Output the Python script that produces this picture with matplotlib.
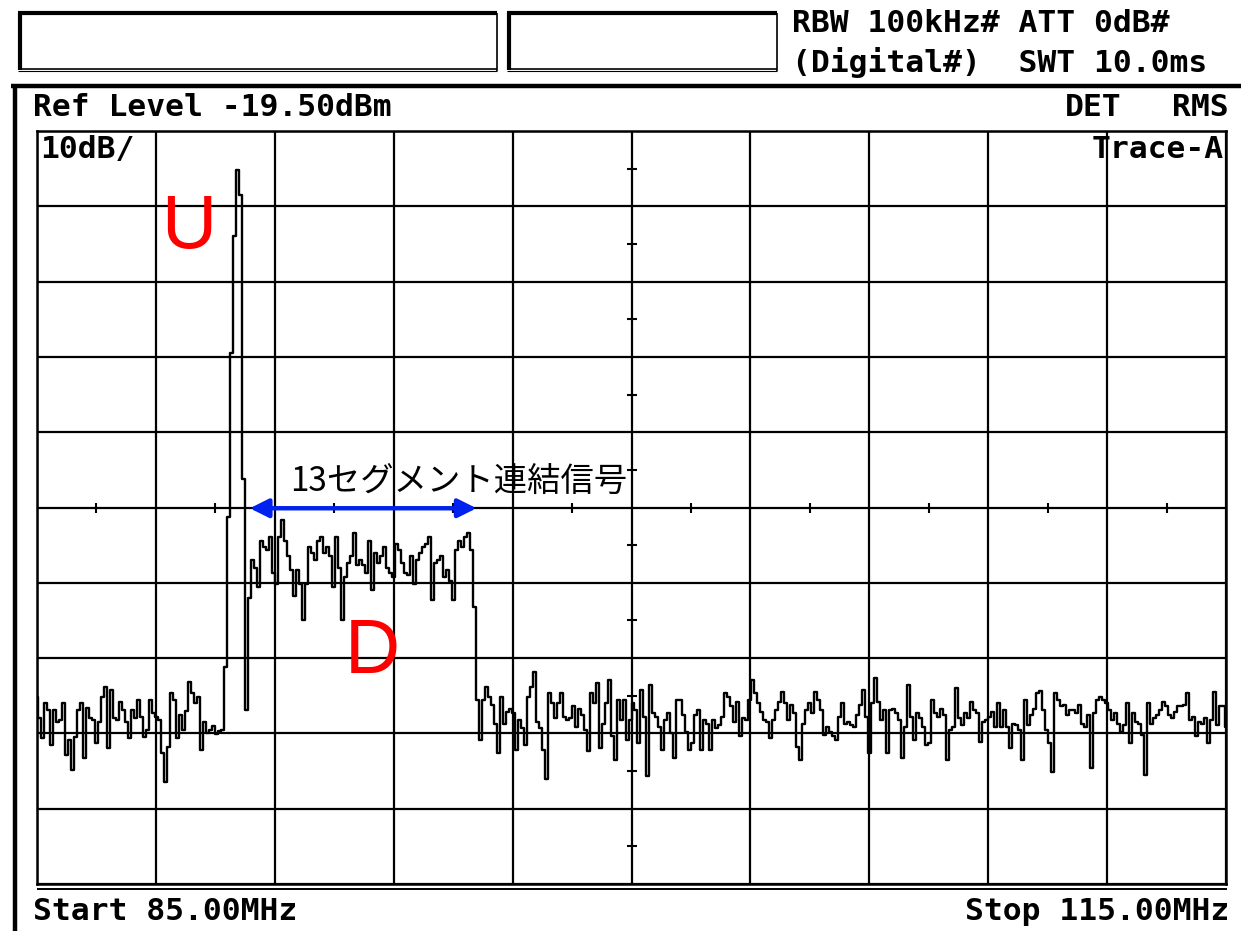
import numpy as np
import matplotlib
matplotlib.use("Agg")
import matplotlib.pyplot as plt

# ---------------- data ----------------
start_mhz, stop_mhz = 85.0, 115.0
ref_level = -19.5
db_per_div = 10

noise_left = [-94.7, -97.5, -100.1, -95.5, -96.4, -101.0, -96.4, -98.0, -97.7, -95.5,
              -102.4, -100.4, -104.4, -100.0, -96.4, -95.5, -102.8, -96.1, -97.5, -97.7,
              -100.8, -98.0, -94.7, -93.3, -101.4, -93.7, -97.5, -97.7, -95.3, -96.4,
              -98.0, -100.1, -96.4, -97.5, -95.1, -97.3, -100.0, -99.0, -95.1, -96.8,
              -97.3, -97.7, -102.1, -106.0, -101.3, -94.1, -95.1, -100.1, -97.1, -99.1,
              -96.5, -92.7, -94.1, -95.5, -94.7, -101.7, -98.0, -99.5, -99.1, -98.5,
              -99.6, -99.2]

u_peak = [-99.0, -90.7, -70.8, -49.0, -33.4, -24.7, -28.0, -65.7, -96.4, -81.5]

d_band = [-76.5, -77.6, -80.0, -74.0, -74.7, -75.1, -73.4, -78.2, -79.6, -73.4,
          -71.2, -74.0, -76.0, -77.8, -81.3, -77.8, -79.6, -84.4, -79.6, -74.7,
          -75.6, -76.5, -74.0, -73.4, -75.6, -74.7, -76.0, -80.0, -73.4, -77.6,
          -84.4, -78.7, -76.9, -76.0, -72.9, -77.2, -76.5, -77.2, -78.2, -74.0,
          -80.5, -75.6, -76.9, -76.0, -74.7, -77.6, -78.2, -78.7, -74.3, -75.1,
          -76.9, -78.2, -78.5, -76.0, -79.6, -76.5, -75.6, -74.7, -74.3, -73.4,
          -81.8, -76.9, -76.5, -76.0, -78.7, -77.8, -79.3, -81.8, -75.1, -74.0,
          -74.7, -73.4, -72.9, -75.1, -82.7, -95.0, -100.4]

noise_mid = [-95.1, -93.3, -94.6, -95.7, -98.2, -102.1, -94.6, -98.2, -96.6, -96.2,
             -96.8, -101.7, -97.7, -98.8, -101.0, -94.6, -93.3, -91.3, -98.0, -98.8,
             -101.7, -105.5, -94.2, -95.5, -97.5, -95.5, -94.2, -97.3, -97.7, -97.5,
             -95.9, -98.6, -96.2, -97.1, -99.0, -101.9, -94.2, -95.5, -92.8, -101.5,
             -98.2, -95.5, -92.4, -99.9, -103.0, -95.1, -97.7, -95.1, -100.4, -97.7,
             -95.5, -96.4, -100.8, -93.7, -97.3, -105.2, -93.1, -96.8, -97.3, -98.6,
             -101.7, -97.7, -96.8, -99.5, -102.8, -95.1, -95.1, -97.1, -99.3, -101.7,
             -100.8, -97.1, -96.4, -101.7, -97.7, -98.2, -101.7, -97.7, -98.8, -98.4,
             -97.3, -94.2, -94.6, -95.9, -98.0, -95.3, -99.9, -97.5, -97.7, -95.1,
             -92.4, -94.2, -95.5, -96.6, -97.7, -98.0, -100.1, -97.7, -96.4, -95.3,
             -94.0, -95.5, -97.7, -95.7, -96.8, -101.3, -103.0, -98.2, -96.4, -95.5,
             -96.8, -94.0, -95.1, -96.4, -99.7, -98.6, -99.3, -99.9, -100.4, -97.3,
             -95.5, -98.2, -98.0]

noise_right = [-98.4, -98.6, -97.1, -95.7, -93.7, -97.3, -102.1, -95.5, -92.2, -95.3,
               -97.7, -96.4, -102.1, -96.4, -96.2, -96.8, -97.7, -102.8, -98.6, -93.1,
               -97.3, -100.4, -96.8, -97.5, -98.6, -101.0, -100.8, -95.1, -96.8, -97.3,
               -96.2, -97.1, -103.0, -99.0, -98.6, -93.5, -97.5, -98.4, -96.8, -97.5,
               -95.3, -96.4, -96.8, -100.6, -98.0, -97.7, -97.3, -96.6, -98.6, -95.5,
               -98.6, -96.4, -98.6, -101.5, -98.2, -98.4, -99.0, -103.0, -95.1, -98.4,
               -97.1, -96.2, -94.2, -93.9, -96.4, -99.0, -100.8, -104.6, -94.2, -95.1,
               -95.9, -95.7, -97.1, -96.4, -96.4, -96.8, -95.7, -98.2, -98.6, -97.1,
               -104.1, -96.8, -95.1, -94.6, -95.1, -95.5, -96.4, -97.7, -96.8, -98.2,
               -99.3, -98.4, -95.5, -100.8, -96.8, -98.0, -98.2, -99.7, -105.0, -95.5,
               -98.2, -97.5, -97.1, -96.4, -95.3, -95.9, -97.1, -97.5, -96.6, -95.9,
               -95.9, -95.7, -94.2, -97.7, -97.3, -99.9, -98.0, -98.2, -97.5, -100.8,
               -97.7, -94.0, -98.4, -95.9, -95.9, -98.6]

trace = np.array(noise_left + u_peak + d_band + noise_mid + noise_right)
freq = np.linspace(start_mhz, stop_mhz, len(trace))

band_edges_mhz = [90.37, 96.09]
band_label = "13セグメント連結信号"

# ---------------- figure ----------------
W, H = 1241, 931
fig = plt.figure(figsize=(W / 100, H / 100), dpi=100)
fig.patch.set_facecolor("white")

# pixel-space overlay for the instrument frame / header texts
fr = fig.add_axes([0, 0, 1, 1], zorder=0)
fr.set_xlim(0, W)
fr.set_ylim(H, 0)
fr.axis("off")

mono = dict(family="DejaVu Sans Mono", fontsize=22.6, color="black", weight="bold")

def line(x0, y0, x1, y1, lw):
    fr.plot([x0, x1], [y0, y1], color="black", lw=lw, solid_capstyle="butt")

# header boxes
for (xa, xb) in [(18, 497), (507, 777)]:
    line(xa, 13, xb, 13, 3.0)
    line(xa + 2, 13, xa + 2, 70, 3.0)
    line(xa, 69, xb, 69, 1.2)
    line(xa, 71, xb, 71, 0.8)
    line(xb, 13, xb, 71, 1.2)

fr.text(792, 23, "RBW 100kHz# ATT 0dB#", ha="left", va="center", **mono)
fr.text(792, 62, "(Digital#)  SWT 10.0ms", ha="left", va="center", **mono)

# main frame
line(11, 86, W, 86, 3.2)
line(15, 85, 15, H, 3.2)

fr.text(33, 108, "Ref Level -19.50dBm", ha="left", va="center", **mono)
fr.text(1065, 108, "DET", ha="left", va="center", **mono)
fr.text(1229, 108, "RMS", ha="right", va="center", **mono)
fr.text(33, 911, "Start 85.00MHz", ha="left", va="center", **mono)
fr.text(1229, 911, "Stop 115.00MHz", ha="right", va="center", **mono)
line(37, 889, 1227, 889, 1.4)

# plot area
x0, x1, y0, y1 = 37, 1226, 131, 884
ax = fig.add_axes([x0 / W, 1 - y1 / H, (x1 - x0) / W, (y1 - y0) / H], zorder=2)
ax.patch.set_alpha(0)
ax.set_xlim(start_mhz, stop_mhz)
ax.set_ylim(ref_level - 10 * db_per_div, ref_level)
ax.set_xticks(np.arange(start_mhz, stop_mhz + 0.1, 3.0))
ax.set_yticks(np.arange(ref_level - 10 * db_per_div, ref_level + 0.1, db_per_div))
ax.tick_params(length=0, labelbottom=False, labelleft=False)
ax.grid(True, color="black", lw=1.6)
for s in ax.spines.values():
    s.set_color("black")
    s.set_linewidth(1.8)

# half-division ticks on centre lines
cx = (start_mhz + stop_mhz) / 2
cy = ref_level - 5 * db_per_div
hx = np.arange(start_mhz + 1.5, stop_mhz, 3.0)
hy = np.arange(ref_level - 10 * db_per_div + 5, ref_level, db_per_div)
ax.plot(hx, np.full_like(hx, cy), ls="none", marker="|", ms=7, mew=1.5, color="black")
ax.plot(np.full_like(hy, cx), hy, ls="none", marker="_", ms=7, mew=1.5, color="black")

ax.text(85.08, -22.0, "10dB/", ha="left", va="center", **mono)
ax.text(114.95, -22.0, "Trace-A", ha="right", va="center", **mono)

# trace
ax.plot(freq, trace, color="black", lw=1.7, drawstyle="steps-mid", zorder=3)

# annotations
ax.annotate("", xy=(band_edges_mhz[0], -69.6), xytext=(band_edges_mhz[1], -69.6),
            arrowprops=dict(arrowstyle="<|-|>", color="#0022EE", lw=3.2,
                            mutation_scale=28, shrinkA=0, shrinkB=0), zorder=4)
ax.text(91.38, -66.1, band_label, ha="left", va="center", fontsize=24,
        family=["Noto Sans CJK JP", "DejaVu Sans"], color="black", zorder=4)
ax.text(88.83, -32.4, "U", ha="center", va="center", fontsize=55,
        family="Liberation Sans", color="#FF0000", zorder=4)
ax.text(93.47, -88.9, "D", ha="center", va="center", fontsize=55,
        family="Liberation Sans", color="#FF0000", zorder=4)

fig.savefig("out.png", dpi=100, facecolor="white")
